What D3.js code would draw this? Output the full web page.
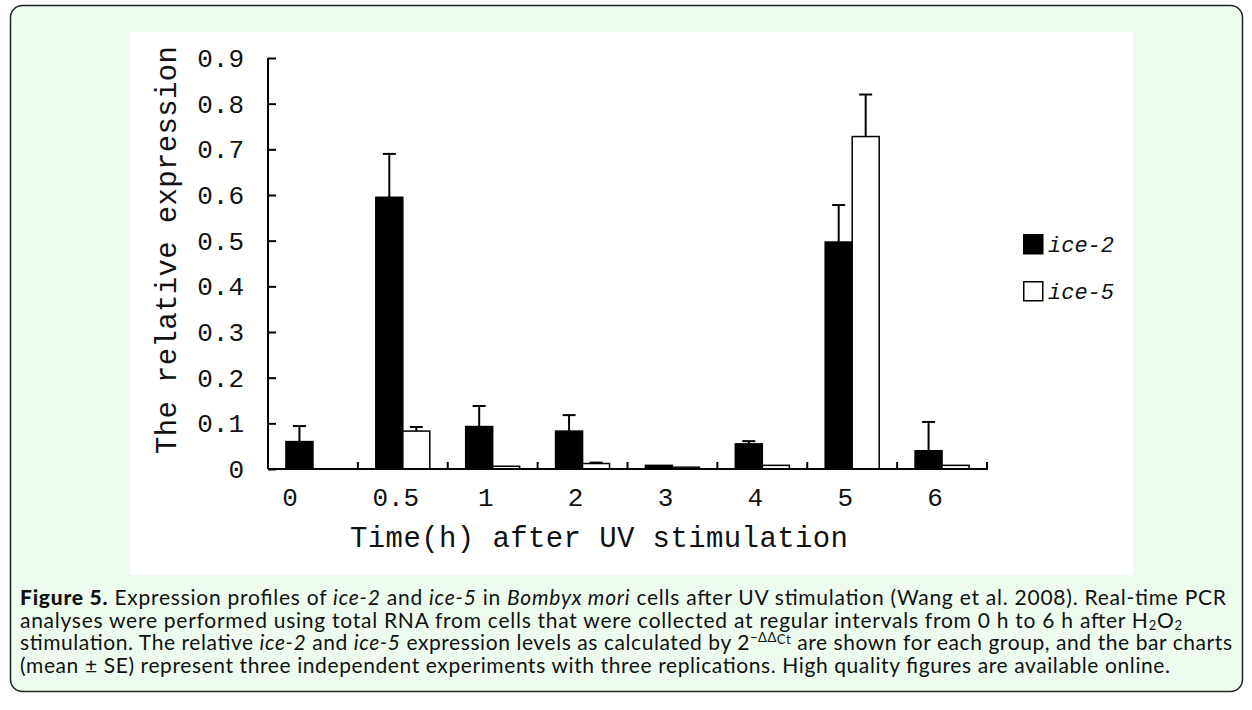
<!DOCTYPE html>
<html>
<head>
<meta charset="utf-8">
<script src="https://cdn.jsdelivr.net/npm/d3@7"></script>
<style>
  html, body { margin: 0; padding: 0; background: #fff; }
  svg { display: block; }
  .mono { font-family: "Liberation Mono", "DejaVu Sans Mono", monospace; fill: #111; }
  .cap { font-family: Lato, "Open Sans", sans-serif; font-size: 21px; fill: #111; }
</style>
</head>
<body>
<div id="chart"></div>
<script>
// data
const categories = ['0', '0.5', '1', '2', '3', '4', '5', '6'];
const seriesNames = ['ice-2', 'ice-5'];
const ice2 = [0.06, 0.595, 0.093, 0.083, 0.008, 0.055, 0.497, 0.04];
const ice2Err = [0.034, 0.095, 0.045, 0.035, 0, 0.006, 0.081, 0.063];
const ice5 = [0, 0.083, 0.006, 0.012, 0.004, 0.008, 0.728, 0.008];
const ice5Err = [0, 0.009, 0, 0.002, 0, 0, 0.092, 0];
const yTicks = [0, 0.1, 0.2, 0.3, 0.4, 0.5, 0.6, 0.7, 0.8, 0.9];

const width = 1252, height = 710;
const colors = { 'ice-2': '#000', 'ice-5': '#fff' };

const svg = d3.select('#chart').append('svg')
  .attr('width', width)
  .attr('height', height);

// panel
svg.append('rect')
  .attr('x', 10.5).attr('y', 5.5)
  .attr('width', 1232).attr('height', 686)
  .attr('rx', 12).attr('ry', 12)
  .attr('fill', '#edfcee')
  .attr('stroke', '#222')
  .attr('stroke-width', 1.5);

svg.append('rect')
  .attr('x', 130).attr('y', 32)
  .attr('width', 1003).attr('height', 543)
  .attr('fill', '#fff');

const x0 = d3.scaleBand().domain(categories).range([268, 987]).padding(0);
const barW = 27;
const x1 = d3.scaleBand().domain(seriesNames)
  .range([x0.bandwidth() / 2 - barW, x0.bandwidth() / 2 + barW]);
const y = d3.scaleLinear().domain([0, 0.9]).range([469, 58]);

const rows = categories.map((c, i) => ({
  cat: c,
  vals: [
    { key: 'ice-2', v: ice2[i], e: ice2Err[i] },
    { key: 'ice-5', v: ice5[i], e: ice5Err[i] }
  ]
}));

const g = svg.append('g');

const groups = g.selectAll('g.grp')
  .data(rows)
  .enter().append('g')
  .attr('class', 'grp')
  .attr('transform', d => 'translate(' + x0(d.cat) + ',0)');

// error bars (upper only), drawn first so bars sit on top
groups.selectAll('g.err')
  .data(d => d.vals.filter(v => v.e > 0))
  .enter().append('g')
  .attr('class', 'err')
  .each(function (d) {
    const cx = x1(d.key) + x1.bandwidth() / 2;
    const el = d3.select(this);
    el.append('line')
      .attr('x1', cx).attr('x2', cx)
      .attr('y1', y(d.v)).attr('y2', y(d.v + d.e))
      .attr('stroke', '#000').attr('stroke-width', 2);
    el.append('line')
      .attr('x1', cx - 6.5).attr('x2', cx + 6.5)
      .attr('y1', y(d.v + d.e)).attr('y2', y(d.v + d.e))
      .attr('stroke', '#000').attr('stroke-width', 2);
  });

groups.selectAll('rect.bar')
  .data(d => d.vals.filter(v => v.v > 0))
  .enter().append('rect')
  .attr('class', 'bar')
  .attr('x', d => x1(d.key))
  .attr('width', x1.bandwidth())
  .attr('y', d => y(d.v))
  .attr('height', d => y(0) - y(d.v))
  .attr('fill', d => colors[d.key])
  .attr('stroke', '#000')
  .attr('stroke-width', 1.5);

// y axis
const yAxis = g.append('g').attr('transform', 'translate(268,0)');
yAxis.call(d3.axisRight(y).tickValues(yTicks).tickSize(8).tickFormat(''));
yAxis.select('.domain').attr('d', 'M0,' + y(0.9) + 'V' + y(0));
yAxis.selectAll('path, line').attr('stroke', '#000').attr('stroke-width', 2);

g.selectAll('text.ytick')
  .data(yTicks)
  .enter().append('text')
  .attr('class', 'mono ytick')
  .attr('x', 244)
  .attr('y', d => y(d) + 9)
  .attr('text-anchor', 'end')
  .style('font-size', '26px')
  .text(d => d === 0 ? '0' : d3.format('.1f')(d));

// x axis
const xAxis = g.append('g').attr('transform', 'translate(0,469)');
xAxis.append('line')
  .attr('x1', 268).attr('x2', 988)
  .attr('stroke', '#000').attr('stroke-width', 2);
xAxis.selectAll('line.tk')
  .data(categories.map(c => x0(c) + x0.bandwidth()).concat([268]))
  .enter().append('line')
  .attr('class', 'tk')
  .attr('x1', d => d).attr('x2', d => d)
  .attr('y1', 0).attr('y2', -7)
  .attr('stroke', '#000').attr('stroke-width', 2);

g.selectAll('text.xtick')
  .data(categories)
  .enter().append('text')
  .attr('class', 'mono xtick')
  .attr('x', d => x0(d) + x0.bandwidth() / 2 - (d === '0' ? 23 : 7))
  .attr('y', 506)
  .attr('text-anchor', 'middle')
  .style('font-size', '26px')
  .text(d => d);

// axis titles
svg.append('text')
  .attr('class', 'mono')
  .attr('x', 350).attr('y', 547)
  .attr('textLength', 498)
  .style('font-size', '29px')
  .text('Time(h) after UV stimulation');

svg.append('text')
  .attr('class', 'mono')
  .attr('transform', 'translate(176,250) rotate(-90)')
  .attr('text-anchor', 'middle')
  .attr('textLength', 408)
  .style('font-size', '29px')
  .text('The relative expression');

// legend
const legend = svg.append('g').selectAll('g')
  .data(seriesNames)
  .enter().append('g')
  .attr('transform', (d, i) => 'translate(1023,' + (234 + i * 47) + ')');
legend.append('rect')
  .attr('x', 0.75).attr('y', 0.75)
  .attr('width', 19).attr('height', 19)
  .attr('fill', d => colors[d])
  .attr('stroke', '#000').attr('stroke-width', 1.5);
legend.append('text')
  .attr('class', 'mono')
  .attr('x', 25).attr('y', 18)
  .style('font-size', '22px')
  .style('font-style', 'italic')
  .text(d => d);

// caption
const capLines = [
  [['b', 'Figure 5.'], ['n', ' Expression profiles of '], ['i', 'ice-2'], ['n', ' and '], ['i', 'ice-5'], ['n', ' in '], ['i', 'Bombyx mori'], ['n', ' cells after UV stimulation (Wang et al. 2008). Real-time PCR']],
  [['n', 'analyses were performed using total RNA from cells that were collected at regular intervals from 0 h to 6 h after H'], ['sub', '2'], ['n', 'O'], ['sub', '2']],
  [['n', 'stimulation. The relative '], ['i', 'ice-2'], ['n', ' and '], ['i', 'ice-5'], ['n', ' expression levels as calculated by 2'], ['sup', '\u2212\u0394\u0394'], ['sup2', 'Ct'], ['n', ' are shown for each group, and the bar charts']],
  [['n', '(mean \u00b1 SE) represent three independent experiments with three replications. High quality figures are available online.']]
];
const capWidths = [1206, 1162, 1212, 1150];

const cap = svg.append('g');
capLines.forEach((line, li) => {
  const t = cap.append('text')
    .attr('class', 'cap')
    .attr('x', 20)
    .attr('y', 605 + li * 22.7)
    .attr('textLength', capWidths[li]);
  let prev = 'n';
  line.forEach(([k, s]) => {
    const sp = t.append('tspan').text(s);
    if (k === 'b') sp.style('font-weight', 900);
    if (k === 'i') sp.style('font-style', 'italic');
    if (k === 'sub') sp.style('font-size', '13px').attr('dy', prev === 'sub' ? 0 : 2);
    if (k === 'sup') sp.style('font-size', '13px').attr('dy', -8);
    if (k === 'sup2') sp.style('font-size', '13px').attr('dy', 2);
    if ((prev === 'sub') && k !== 'sub') sp.attr('dy', -2);
    if (prev === 'sup2' && k === 'n') sp.attr('dy', 6);
    prev = k;
  });
});
</script>
</body>
</html>
